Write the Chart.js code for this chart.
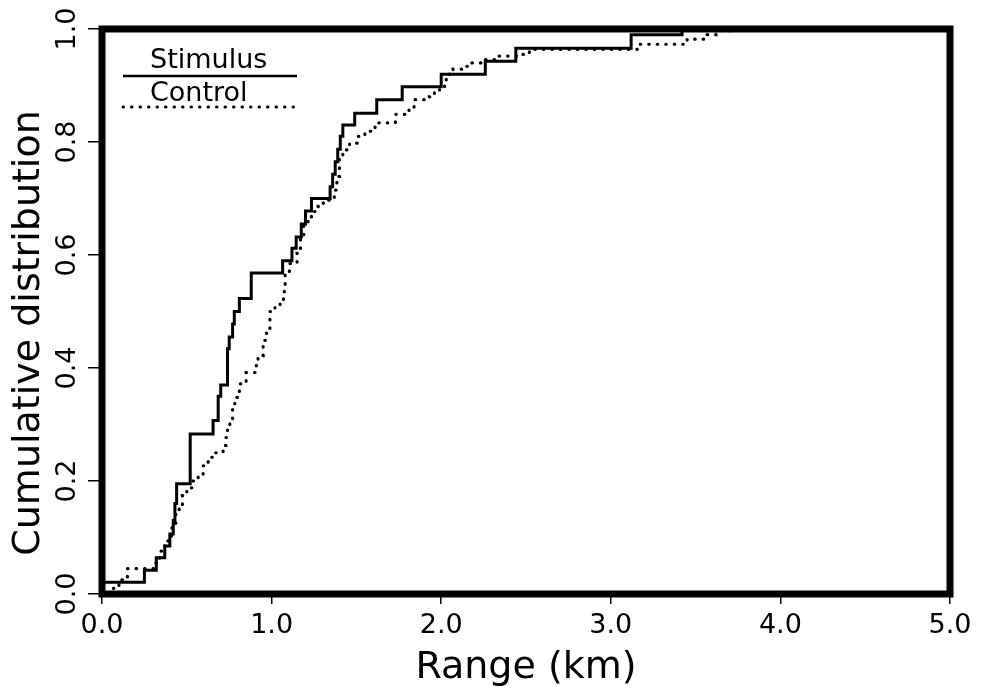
<!DOCTYPE html>
<html>
<head>
<meta charset="utf-8">
<title>Cumulative distribution of range</title>
<script src="https://cdn.jsdelivr.net/npm/chart.js@4.4.1/dist/chart.umd.min.js"></script>
<style>
  html, body { margin: 0; padding: 0; background: #fff; }
  #wrap { width: 989px; height: 695px; position: relative; }
</style>
</head>
<body>
<div id="wrap"><canvas id="cdf-chart"></canvas></div>
<script>
// Stimulus: range (km) where the step rises, and the cumulative value after it
const stimulusRange = [0, 0.25, 0.32, 0.37, 0.40, 0.42, 0.43, 0.44, 0.52, 0.655, 0.685, 0.70, 0.74, 0.75,
  0.77, 0.78, 0.81, 0.88, 1.065, 1.12, 1.145, 1.175, 1.20, 1.235, 1.345, 1.36, 1.375, 1.39, 1.405,
  1.42, 1.49, 1.62, 1.77, 2.0, 2.26, 2.44, 3.12, 3.42, 5.0];
const stimulusCdf = [0.021, 0.042, 0.064, 0.085, 0.106, 0.13, 0.16, 0.195, 0.283, 0.307, 0.35, 0.37, 0.434, 0.455,
  0.478, 0.50, 0.523, 0.568, 0.59, 0.612, 0.632, 0.655, 0.678, 0.70, 0.721, 0.743, 0.765, 0.787, 0.81,
  0.83, 0.851, 0.875, 0.898, 0.92, 0.943, 0.966, 0.99, 1.0, 1.0];

// Control
const controlRange = [0, 0.05, 0.10, 0.15, 0.31, 0.34, 0.37, 0.41, 0.435, 0.455, 0.474, 0.50, 0.537, 0.567,
  0.596, 0.626, 0.665, 0.714, 0.73, 0.74, 0.754, 0.77, 0.783, 0.81, 0.85, 0.91, 0.92, 0.95, 0.97, 0.99,
  1.02, 1.05, 1.07, 1.075, 1.08, 1.105, 1.15, 1.17, 1.19, 1.235, 1.275, 1.305, 1.335, 1.37, 1.385, 1.40,
  1.42, 1.46, 1.51, 1.55, 1.61, 1.73, 1.81, 1.84, 1.93, 1.96, 1.99, 2.02, 2.03, 2.07, 2.12, 2.18, 2.25,
  2.34, 2.45, 2.52, 3.16, 3.45, 3.56, 3.62, 3.74, 5.0];
const controlCdf = [0.0, 0.01, 0.025, 0.045, 0.055, 0.076, 0.094, 0.117, 0.141, 0.156, 0.174, 0.188, 0.20, 0.212,
  0.227, 0.242, 0.25, 0.263, 0.277, 0.295, 0.307, 0.327, 0.348, 0.372, 0.392, 0.407, 0.422, 0.449, 0.47, 0.50,
  0.509, 0.517, 0.529, 0.543, 0.568, 0.585, 0.603, 0.629, 0.659, 0.677, 0.686, 0.692, 0.697, 0.715, 0.739, 0.769,
  0.786, 0.798, 0.81, 0.819, 0.834, 0.849, 0.86, 0.875, 0.88, 0.89, 0.896, 0.908, 0.92, 0.929, 0.934, 0.94, 0.946,
  0.952, 0.955, 0.964, 0.973, 0.982, 0.99, 0.997, 1.0, 1.0];

const seriesLabels = ['Stimulus', 'Control'];
const xTitle = 'Range (km)';
const yTitle = 'Cumulative distribution';

const FONT = '"DejaVu Sans", "Liberation Sans", sans-serif';

const toPoints = (xs, ys) => xs.map((x, i) => ({ x, y: ys[i] }));

// y tick labels and the y title are drawn turned a quarter, like the scan
const rotatedYLabels = {
  id: 'rotatedYLabels',
  afterDraw(chart) {
    const { ctx } = chart;
    const scale = chart.scales.y;
    ctx.save();
    ctx.fillStyle = '#000';
    ctx.textAlign = 'center';
    ctx.textBaseline = 'middle';
    ctx.font = '27px ' + FONT;
    scale.ticks.forEach(t => {
      const py = scale.getPixelForValue(t.value);
      ctx.save();
      ctx.translate(68, py);
      ctx.rotate(-Math.PI / 2);
      ctx.fillText(t.value.toFixed(1), 0, 0);
      ctx.restore();
    });
    ctx.font = '38px ' + FONT;
    ctx.translate(29, 333);
    ctx.rotate(-Math.PI / 2);
    ctx.fillText(yTitle, 0, 0);
    ctx.restore();
  }
};

// heavy frame round the plot area plus the little legend in the corner
const frameAndLegend = {
  id: 'frameAndLegend',
  afterDraw(chart) {
    const { ctx, chartArea: a } = chart;
    ctx.save();
    ctx.strokeStyle = '#000';
    ctx.lineWidth = 7;
    ctx.strokeRect(a.left, a.top, a.right - a.left, a.bottom - a.top);

    const ds = chart.data.datasets;
    const x0 = a.left + 21, x1 = a.left + 195;
    ctx.fillStyle = '#000';
    ctx.font = '27px ' + FONT;
    ctx.textAlign = 'left';
    ctx.textBaseline = 'alphabetic';
    ctx.fillText(ds[0].label, a.left + 48, a.top + 39);
    ctx.beginPath();
    ctx.lineWidth = 2.5;
    ctx.moveTo(x0, a.top + 47);
    ctx.lineTo(x1, a.top + 47);
    ctx.stroke();

    ctx.fillText(ds[1].label, a.left + 48, a.top + 72);
    ctx.beginPath();
    ctx.lineWidth = 3;
    ctx.lineCap = 'round';
    ctx.setLineDash(ds[1].borderDash);
    ctx.moveTo(x0, a.top + 78);
    ctx.lineTo(x1, a.top + 78);
    ctx.stroke();
    ctx.restore();
  }
};

new Chart(document.getElementById('cdf-chart'), {
  type: 'line',
  data: {
    datasets: [
      {
        label: seriesLabels[0],
        data: toPoints(stimulusRange, stimulusCdf),
        stepped: true,
        borderColor: '#000',
        borderWidth: 3,
        pointRadius: 0,
        fill: false
      },
      {
        label: seriesLabels[1],
        data: toPoints(controlRange, controlCdf),
        stepped: true,
        borderColor: '#000',
        borderWidth: 3.2,
        borderDash: [0.5, 8],
        borderCapStyle: 'round',
        pointRadius: 0,
        fill: false
      }
    ]
  },
  options: {
    responsive: true,
    maintainAspectRatio: false,
    animation: false,
    layout: { padding: { top: 29, right: 39, bottom: 0, left: 0 } },
    plugins: {
      legend: { display: false },
      tooltip: { enabled: false }
    },
    scales: {
      x: {
        type: 'linear',
        min: 0,
        max: 5,
        ticks: {
          stepSize: 1,
          color: '#000',
          padding: 6,
          font: { family: FONT, size: 27 },
          callback: v => v.toFixed(1)
        },
        grid: { drawOnChartArea: false, drawTicks: true, tickLength: 10, color: '#000', lineWidth: 1.5 },
        border: { display: false },
        title: { display: true, text: xTitle, color: '#000', font: { family: FONT, size: 38 }, padding: { top: 0, bottom: 4 } },
        afterFit: s => { s.height = 101; }
      },
      y: {
        type: 'linear',
        min: 0,
        max: 1,
        ticks: { stepSize: 0.2, display: false },
        grid: { drawOnChartArea: false, drawTicks: true, tickLength: 14, color: '#000', lineWidth: 1.5 },
        border: { display: false },
        afterFit: s => { s.width = 102; }
      }
    }
  },
  plugins: [rotatedYLabels, frameAndLegend]
});
</script>
</body>
</html>
